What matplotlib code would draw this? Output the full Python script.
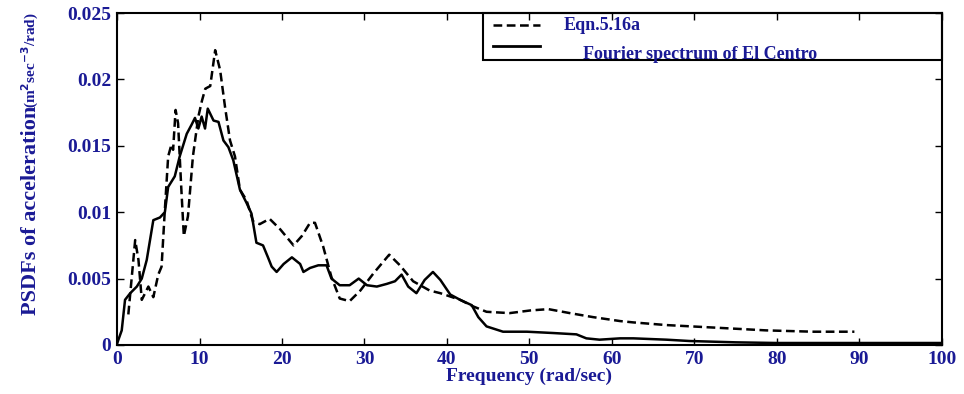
import matplotlib.pyplot as plt
import numpy as np

# Fourier spectrum of El Centro (solid line)
f_fourier = [0, 0.57, 0.97, 1.6, 2.4, 3.0, 3.6, 4.4, 5.2, 5.8, 6.2, 7.0, 7.6, 8.45,
             9.05, 9.45, 9.86, 10.26, 10.67, 11.0, 11.7, 12.3, 12.9, 13.5, 14.1, 14.9,
             15.7, 16.3, 16.9, 17.7, 18.3, 18.75, 19.35, 20.2, 21.2, 22.2, 22.6, 23.4,
             24.4, 25.4, 26.0, 27.0, 28.2, 29.3, 30.3, 31.5, 32.7, 33.7, 34.5, 35.3,
             36.3, 37.3, 38.3, 39.2, 40.4, 41.6, 43.0, 43.8, 44.8, 46.8, 49.7, 52.9,
             55.7, 56.9, 58.5, 61.0, 62.6, 66.6, 69.4, 75, 80, 90, 100]
psd_fourier = [0.0001, 0.0011, 0.0034, 0.0039, 0.0044, 0.0050, 0.0064, 0.0094, 0.0096,
               0.0100, 0.0119, 0.0127, 0.0142, 0.0159, 0.0166, 0.0171, 0.0163, 0.0172,
               0.0163, 0.0178, 0.0169, 0.0168, 0.0154, 0.0149, 0.0139, 0.0117, 0.0107,
               0.0099, 0.0077, 0.0075, 0.0066, 0.0059, 0.0055, 0.0061, 0.0066, 0.0061,
               0.0055, 0.0058, 0.0060, 0.0060, 0.0050, 0.0045, 0.0045, 0.0050, 0.0045,
               0.0044, 0.0046, 0.0048, 0.0053, 0.0044, 0.0039, 0.0049, 0.0055, 0.0049,
               0.0038, 0.0034, 0.0030, 0.0021, 0.0014, 0.0010, 0.0010, 0.0009, 0.0008,
               0.0005, 0.0004, 0.0005, 0.0005, 0.0004, 0.0003, 0.0002, 0.00015, 0.00015,
               0.00015]

# Eqn.5.16a (dashed line)
f_eqn = [1.37, 2.2, 2.6, 3.0, 3.4, 3.8, 4.4, 5.0, 5.4, 5.8, 6.2, 6.6, 6.8, 7.1, 7.4,
         7.8, 8.1, 8.6, 9.2, 9.86, 10.3, 10.7, 11.3, 11.9, 12.5, 13.1, 13.7, 14.3, 14.9,
         15.7, 16.5, 17.3, 18.5, 19.8, 21.4, 22.4, 23.4, 24.0, 25.0, 26.0, 27.0, 28.2,
         29.5, 31.1, 33.0, 34.3, 35.9, 37.9, 39.2, 41.6, 43.2, 44.8, 47.6, 50.1, 52.3,
         54.9, 57.7, 61.0, 62.6, 66.6, 72.7, 78.7, 84.4, 89.4]
psd_eqn = [0.0023, 0.0079, 0.0064, 0.0034, 0.0039, 0.0044, 0.0036, 0.0053, 0.0059,
           0.0102, 0.0142, 0.0151, 0.0147, 0.0177, 0.0167, 0.0117, 0.0082, 0.0097,
           0.0142, 0.0172, 0.0184, 0.0193, 0.0195, 0.0222, 0.0207, 0.0179, 0.0154,
           0.0142, 0.0117, 0.0109, 0.0093, 0.0091, 0.0095, 0.0087, 0.0075, 0.0082,
           0.0092, 0.0092, 0.0074, 0.0051, 0.0035, 0.0033, 0.0041, 0.0054, 0.0068,
           0.0060, 0.0048, 0.0041, 0.0039, 0.0034, 0.0029, 0.0025, 0.0024, 0.0026,
           0.0027, 0.0024, 0.0021, 0.0018, 0.0017, 0.0015, 0.0013, 0.0011, 0.0010,
           0.0010]

blue = '#1a1a95'
plt.rcParams['font.family'] = ['Liberation Serif', 'DejaVu Serif']
plt.rcParams['font.weight'] = 'bold'

fig = plt.figure(figsize=(9.64, 3.94), dpi=100)
ax = fig.add_axes([0.1214, 0.1244, 0.8556, 0.8426])

ax.plot(f_eqn, psd_eqn, color='black', lw=1.8, ls=(0, (3.5, 1.8)))
ax.plot(f_fourier, psd_fourier, color='black', lw=1.8)

ax.set_xlim(0, 100)
ax.set_ylim(0, 0.025)
ax.set_xticks(np.arange(0, 101, 10))
ax.set_yticks([0, 0.005, 0.01, 0.015, 0.02, 0.025])
ax.set_yticklabels(['0', '0.005', '0.01', '0.015', '0.02', '0.025'])
ax.tick_params(direction='in', top=True, right=True, length=5, width=1,
               labelsize=14, labelcolor=blue, pad=4)
for lab in ax.get_xticklabels() + ax.get_yticklabels():
    lab.set_fontweight('bold')
for sp in ax.spines.values():
    sp.set_linewidth(1.5)

ax.set_xlabel('Frequency (rad/sec)', fontsize=14, fontweight='bold', color=blue, labelpad=0)

# y label: big main part plus squeezed units on top, as in the original
fig.text(0.032, 1 - 315 / 394, 'PSDFs of acceleration', rotation=90, fontsize=16,
         fontweight='bold', color=blue, ha='center', va='bottom')
fig.text(0.032, 1 - 12 / 394, '(m$^{2}$sec$^{-3}$/rad)', rotation=90, fontsize=11,
         fontweight='bold', color=blue, ha='center', va='top')

# hand-drawn legend box like the original
box = plt.Rectangle((0.444, 0.858), 0.556, 0.142, transform=ax.transAxes,
                    fill=False, edgecolor='black', lw=1.5, clip_on=False)
ax.add_patch(box)
ax.plot([0.456, 0.513], [0.964, 0.964], transform=ax.transAxes, color='black',
        lw=1.8, ls=(0, (3.5, 1.8)))
ax.plot([0.456, 0.513], [0.90, 0.90], transform=ax.transAxes, color='black', lw=2)
ax.text(0.541, 0.962, 'Eqn.5.16a', transform=ax.transAxes, fontsize=13,
        fontweight='bold', color=blue, va='center', ha='left')
ax.text(0.565, 0.875, 'Fourier spectrum of El Centro', transform=ax.transAxes,
        fontsize=13, fontweight='bold', color=blue, va='center', ha='left')

fig.savefig('out.png', dpi=100)
